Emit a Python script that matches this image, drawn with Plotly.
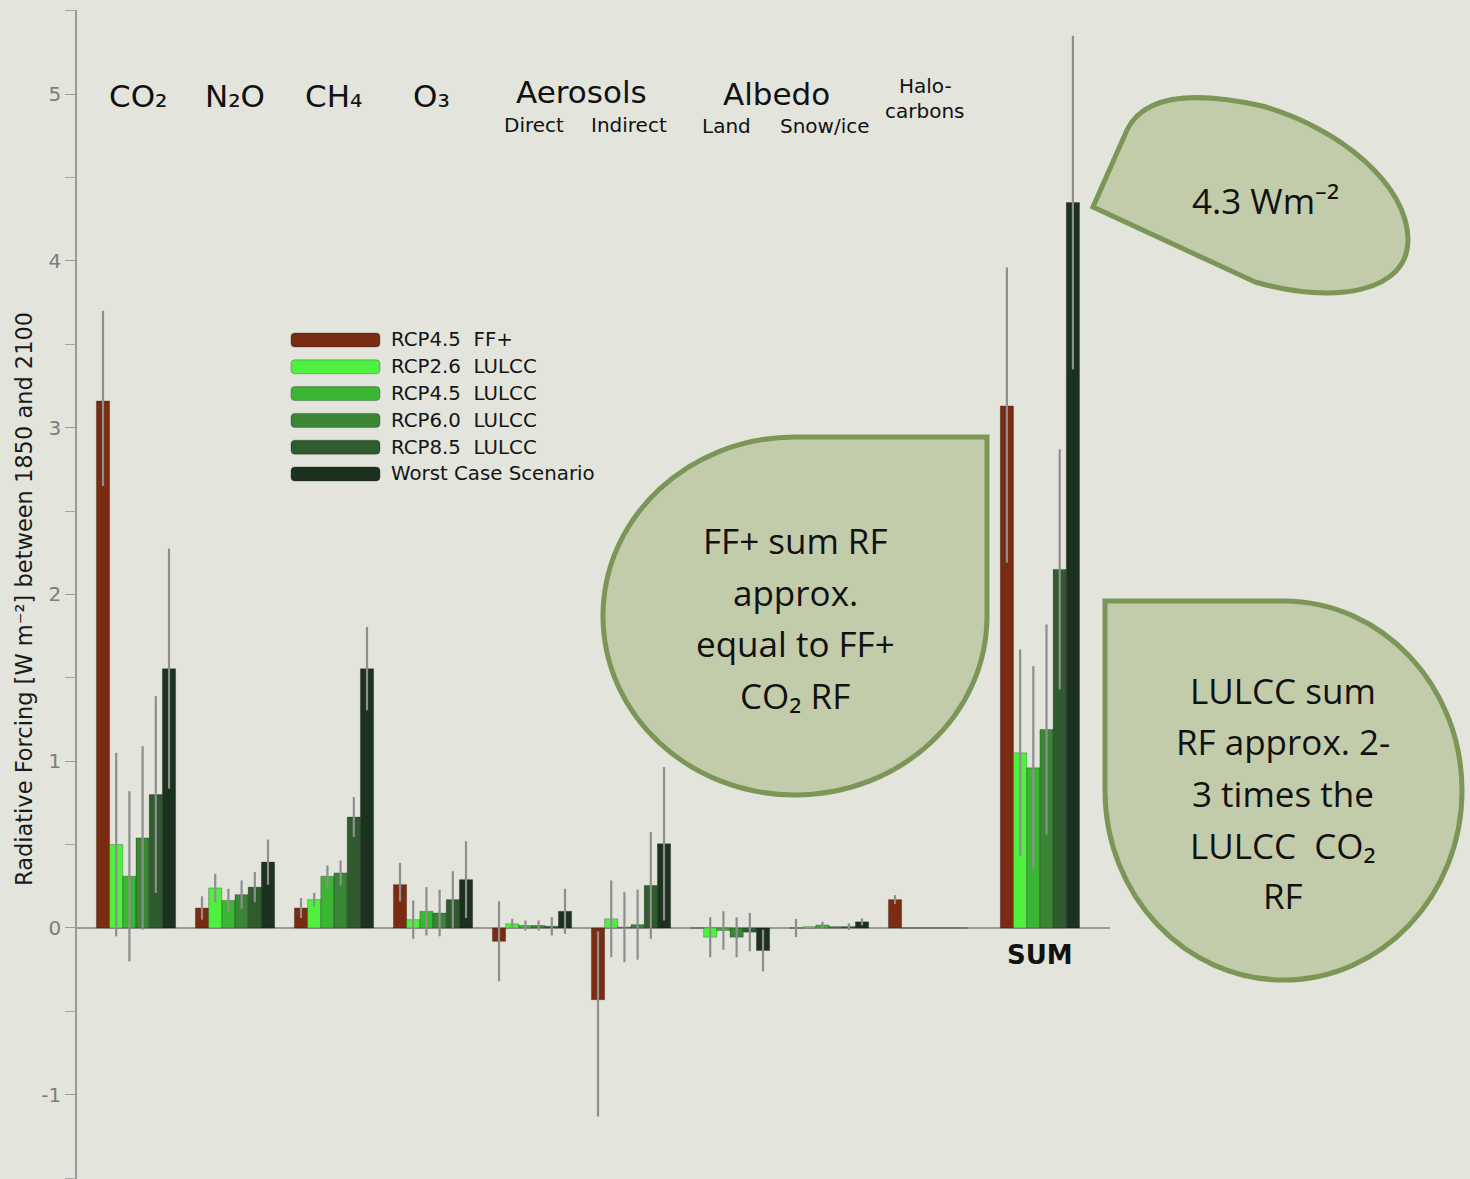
import plotly.graph_objects as go

# ---------------- data ----------------
categories = ["CO2", "N2O", "CH4", "O3", "Aerosols Direct", "Aerosols Indirect",
              "Albedo Land", "Albedo Snow/ice", "Halocarbons", "SUM"]
series_names = ["RCP4.5  FF+", "RCP2.6  LULCC", "RCP4.5  LULCC",
                "RCP6.0  LULCC", "RCP8.5  LULCC", "Worst Case Scenario"]

ff_plus = [3.16, 0.12, 0.12, 0.26, -0.08, -0.43, 0.0, 0.0, 0.17, 3.13]
ff_plus_err_hi = [0.54, 0.07, 0.06, 0.13, 0.24, 0.41, 0.0, 0.055, 0.027, 0.83]
ff_plus_err_lo = [0.51, 0.07, 0.06, 0.10, 0.24, 0.70, 0.0, 0.055, 0.027, 0.94]

rcp26 = [0.50, 0.24, 0.17, 0.05, 0.025, 0.055, -0.055, 0.008, 0.0, 1.05]
rcp26_err = [0.55, 0.085, 0.04, 0.115, 0.03, 0.23, 0.12, 0.0, 0.0, 0.62]

rcp45 = [0.31, 0.165, 0.31, 0.10, 0.015, 0.005, -0.015, 0.018, 0.0, 0.96]
rcp45_err = [0.51, 0.07, 0.065, 0.145, 0.03, 0.21, 0.115, 0.02, 0.0, 0.61]

rcp60 = [0.54, 0.20, 0.33, 0.09, 0.015, 0.02, -0.055, 0.008, 0.0, 1.19]
rcp60_err = [0.55, 0.085, 0.075, 0.14, 0.03, 0.21, 0.12, 0.0, 0.0, 0.63]

rcp85 = [0.80, 0.245, 0.665, 0.17, 0.01, 0.255, -0.025, 0.008, 0.0, 2.15]
rcp85_err = [0.59, 0.09, 0.12, 0.17, 0.055, 0.32, 0.115, 0.02, 0.0, 0.72]

worst = [1.555, 0.395, 1.555, 0.29, 0.10, 0.505, -0.135, 0.037, 0.0, 4.35]
worst_err = [0.72, 0.135, 0.25, 0.23, 0.135, 0.46, 0.125, 0.02, 0.0, 1.0]

y_ticks = [-1, 0, 1, 2, 3, 4, 5]
y_tick_text = ["-1", "0", "1", "2", "3", "4", "5"]

# ---------------- styling ----------------
W, H = 1470, 1179
L, R, T, B = 77, 1110, 10, 1179
BG = "#e3e4dc"
colors = ["#792c12", "#4ff040", "#3bb534", "#3a8536", "#2f5b2e", "#1d321e"]
ERR = "#8e8e8e"
BUB_FILL = "#c3ccaa"
BUB_LINE = "#7b9656"
FONT = "DejaVu Sans"
SUM_GAP = 0.13  # extra space before the SUM group

# group positions on a numeric x axis (SUM set a little apart)
x_pos = [i + (SUM_GAP if c == "SUM" else 0.0) for i, c in enumerate(categories)]


def fx(x):
    return (x - L) / (R - L)


def fy(y):
    return (B - y) / (B - T)


values = [ff_plus, rcp26, rcp45, rcp60, rcp85, worst]
err_hi = [ff_plus_err_hi, rcp26_err, rcp45_err, rcp60_err, rcp85_err, worst_err]
err_lo = [ff_plus_err_lo, rcp26_err, rcp45_err, rcp60_err, rcp85_err, worst_err]

fig = go.Figure()
for name, vals, ehi, elo, col in zip(series_names, values, err_hi, err_lo, colors):
    fig.add_trace(go.Bar(
        x=x_pos, y=vals, name=name, customdata=categories,
        hovertemplate="%{customdata}: %{y}<extra>" + name + "</extra>",
        marker=dict(color=col, line=dict(color="rgba(0,0,0,0.3)", width=0.8)),
        error_y=dict(type="data", symmetric=False, array=ehi, arrayminus=elo,
                     color=ERR, thickness=2.2, width=0),
        showlegend=False,
    ))

shapes = []
annotations = []


def path_str(segs, close=True):
    out = ""
    for seg in segs:
        cmd = seg[0]
        coords = seg[1:]
        s = []
        for k in range(0, len(coords), 2):
            s.append(f"{fx(coords[k]):.5f},{fy(coords[k+1]):.5f}")
        out += cmd + " " + " ".join(s) + " "
    return out + ("Z" if close else "")


# ---------- manual legend ----------
leg_y0 = 340
leg_dy = 26.8
for i, (name, col) in enumerate(zip(series_names, colors)):
    cy = leg_y0 + i * leg_dy
    x0, x1, y0, y1, r = 291, 380, cy - 7, cy + 7, 4
    p = path_str([("M", x0 + r, y0), ("L", x1 - r, y0), ("Q", x1, y0, x1, y0 + r),
                  ("L", x1, y1 - r), ("Q", x1, y1, x1 - r, y1), ("L", x0 + r, y1),
                  ("Q", x0, y1, x0, y1 - r), ("L", x0, y0 + r), ("Q", x0, y0, x0 + r, y0)])
    shapes.append(dict(type="path", path=p, xref="paper", yref="paper",
                       fillcolor=col, line=dict(color="rgba(0,0,0,0.25)", width=1)))
    annotations.append(dict(text=name.replace("  ", "\u00a0\u00a0"), x=fx(389), y=fy(cy),
                            xref="paper", yref="paper", xanchor="left", yanchor="middle",
                            showarrow=False, font=dict(family=FONT, size=19.8, color="#151515")))

# ---------- bubbles ----------
K = 0.5523


def drop_tr(cx, cy, rx, ry):
    return path_str([
        ("M", cx + rx, cy - ry), ("L", cx + rx, cy),
        ("C", cx + rx, cy + K * ry, cx + K * rx, cy + ry, cx, cy + ry),
        ("C", cx - K * rx, cy + ry, cx - rx, cy + K * ry, cx - rx, cy),
        ("C", cx - rx, cy - K * ry, cx - K * rx, cy - ry, cx, cy - ry),
    ])


def drop_tl(cx, cy, rx, ry):
    return path_str([
        ("M", cx - rx, cy - ry), ("L", cx, cy - ry),
        ("C", cx + K * rx, cy - ry, cx + rx, cy - K * ry, cx + rx, cy),
        ("C", cx + rx, cy + K * ry, cx + K * rx, cy + ry, cx, cy + ry),
        ("C", cx - K * rx, cy + ry, cx - rx, cy + K * ry, cx - rx, cy),
    ])


bubble_4 = path_str([
    ("M", 1093, 207), ("L", 1127, 130),
    ("C", 1145, 93, 1200, 92, 1262, 106),
    ("C", 1340, 128, 1408, 185, 1408, 240),
    ("C", 1408, 292, 1335, 305, 1255, 282),
])

for pth in [bubble_4, drop_tr(795, 616, 192, 179), drop_tl(1283.5, 790.5, 178.5, 189.5)]:
    shapes.append(dict(type="path", path=pth, xref="paper", yref="paper",
                       fillcolor=BUB_FILL, line=dict(color=BUB_LINE, width=5), layer="above"))

BFONT = dict(family="Open Sans", size=35, color="#111111")
bubble_lines = [
    ("4.3 Wm\u207b\u00b2", 1265, 200),
    ("FF+ sum RF", 795, 540), ("approx.", 795, 592), ("equal to FF+", 795, 643),
    ("CO\u2082 RF", 795, 695),
    ("LULCC sum", 1283, 690), ("RF approx. 2-", 1283, 742), ("3 times the", 1283, 793),
    ("LULCC\u00a0 CO\u2082", 1283, 845), ("RF", 1283, 895),
]
for txt, x, y in bubble_lines:
    annotations.append(dict(text=txt, x=fx(x), y=fy(y), xref="paper", yref="paper",
                            xanchor="center", yanchor="middle", showarrow=False, font=BFONT))

# ---------- category labels ----------
big = dict(family=FONT, size=31, color="#111111")
small = dict(family=FONT, size=20, color="#111111")
cat_labels = [
    ("CO\u2082", 0.02, 96, big), ("N\u2082O", 1.0, 96, big),
    ("CH\u2084", 1.99, 96, big), ("O\u2083", 2.98, 96, big),
    ("Aerosols", 4.5, 92, big), ("Direct", 4.02, 125, small), ("Indirect", 4.98, 125, small),
    ("Albedo", 6.47, 94, big), ("Land", 5.96, 126, small), ("Snow/ice", 6.96, 126, small),
    ("Halo-", 7.97, 86, small), ("carbons", 7.97, 111, small),
]
for txt, xi, y, f in cat_labels:
    annotations.append(dict(text=txt, x=xi, y=fy(y), xref="x", yref="paper",
                            xanchor="center", yanchor="middle", showarrow=False, font=f))

annotations.append(dict(text="<b>SUM</b>", x=x_pos[-1], y=fy(955), xref="x", yref="paper",
                        xanchor="center", yanchor="middle", showarrow=False,
                        font=dict(family=FONT, size=26, color="#111111")))

# y-axis title
annotations.append(dict(text="Radiative Forcing [W m\u207b\u00b2] between 1850 and 2100",
                        x=fx(24), y=fy(599), xref="paper", yref="paper", textangle=-90,
                        xanchor="center", yanchor="middle", showarrow=False,
                        font=dict(family=FONT, size=22.5, color="#1a1a1a")))

fig.update_layout(
    width=W, height=H,
    margin=dict(l=L, r=W - R, t=T, b=H - B, pad=0),
    paper_bgcolor=BG, plot_bgcolor=BG,
    barmode="group", bargap=0.2, bargroupgap=0.0,
    font=dict(family=FONT),
    shapes=shapes, annotations=annotations,
    xaxis=dict(type="linear", range=[-0.596, 9.838], showticklabels=False,
               showgrid=False, zeroline=False, showline=False, ticks=""),
    yaxis=dict(range=[-1.505, 5.504], tickvals=y_ticks, ticktext=y_tick_text, showgrid=False,
               zeroline=True, zerolinecolor="#9a9a9a", zerolinewidth=1.5,
               showline=True, linecolor="#9a9a9a", linewidth=1.5,
               ticks="outside", ticklen=10, tickcolor="#9a9a9a", tickwidth=1.2,
               minor=dict(dtick=0.5, ticks="outside", ticklen=10, tickcolor="#a5a5a5", tickwidth=1),
               tickfont=dict(family=FONT, size=20, color="#7d7d7d")),
)

fig.write_html("out.html", config={"displayModeBar": False},
               post_script="document.body.style.margin='0px';")
